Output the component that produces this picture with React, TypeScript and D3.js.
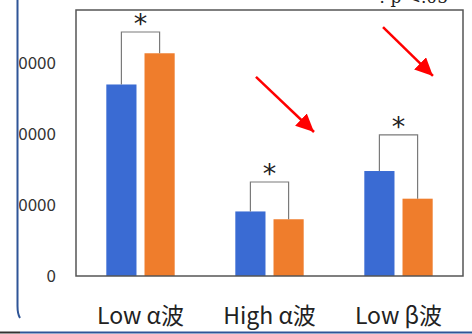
import React from "react";
import * as d3 from "d3";

const categories = ["Low α波", "High α波", "Low β波"];
const seriesNames = ["before", "after"];
const seriesColors = ["#3a6bd3", "#ef7d2c"];
const valuesBefore = [27000, 9100, 14800];
const valuesAfter = [31400, 8000, 10900];
const bracketValues = [34400, 13250, 19900];
const yTicks = [0, 10000, 20000, 30000];
const arrows = [
  { x1: 0.895, y1: 28060, x2: 1.345, y2: 20300 },
  { x1: 1.88, y1: 35100, x2: 2.267, y2: 28200 },
];

const W = 472;
const H = 334;
const plot = { left: 76, right: 463, top: 10, bottom: 276 };

export default function App() {
  const x0 = d3
    .scaleBand<string>()
    .domain(categories)
    .range([plot.left, plot.right])
    .paddingInner(0.47)
    .paddingOuter(0.235);
  const x1 = d3
    .scaleBand<string>()
    .domain(seriesNames)
    .range([0, x0.bandwidth()])
    .paddingInner(0.21);
  const y = d3.scaleLinear().domain([0, 37500]).range([plot.bottom, plot.top]);
  const idx = d3
    .scaleLinear()
    .domain([0, 1])
    .range([
      (x0(categories[0]) as number) + x0.bandwidth() / 2,
      (x0(categories[1]) as number) + x0.bandwidth() / 2,
    ]);

  const data = categories.map((c, i) => ({
    cat: c,
    vals: [valuesBefore[i], valuesAfter[i]],
    bracket: bracketValues[i],
  }));

  const sans = "'Noto Sans CJK JP', 'Noto Sans', sans-serif";

  return (
    <div style={{ position: "absolute", left: 0, top: 0 }}>
      <svg width={W} height={H} style={{ display: "block", background: "#fff" }}>
        <defs>
          <clipPath id="tickclip">
            <rect x={19} y={0} width={W} height={H} />
          </clipPath>
          <marker
            id="arrowhead"
            markerUnits="userSpaceOnUse"
            markerWidth={19}
            markerHeight={17}
            refX={18}
            refY={8.5}
            orient="auto"
          >
            <path d="M0,0 L18,8.5 L0,17 Z" fill="#ff0000" />
          </marker>
        </defs>

        {/* top-right note, mostly cut off */}
        <text
          x={448}
          y={3}
          textAnchor="end"
          fontFamily="'DejaVu Serif', serif"
          fontSize={17}
          fill="#222"
        >
          * : p &lt;.05
        </text>

        {/* y tick labels */}
        <g clipPath="url(#tickclip)">
          {yTicks.map((t) => (
            <text
              key={t}
              x={56}
              y={y(t)}
              dy="0.35em"
              textAnchor="end"
              fontFamily={sans}
              fontSize={17}
              fill="#333"
            >
              {t}
            </text>
          ))}
        </g>

        {/* bars */}
        {data.map((d) => (
          <g key={d.cat} transform={`translate(${x0(d.cat)},0)`}>
            {d.vals.map((v, j) => (
              <rect
                key={j}
                x={x1(seriesNames[j])}
                y={y(v)}
                width={x1.bandwidth()}
                height={y(0) - y(v)}
                fill={seriesColors[j]}
              />
            ))}
            {/* bracket */}
            <path
              d={`M${(x1(seriesNames[0]) as number) + x1.bandwidth() / 2},${y(d.vals[0])}V${y(
                d.bracket
              )}H${(x1(seriesNames[1]) as number) + x1.bandwidth() / 2}V${y(d.vals[1])}`}
              fill="none"
              stroke="#7a7a7a"
              strokeWidth={1.2}
            />
            <text
              x={x0.bandwidth() / 2}
              y={y(d.bracket) + 1}
              textAnchor="middle"
              fontFamily="'DejaVu Sans', sans-serif"
              fontSize={27}
              fill="#222"
            >
              *
            </text>
          </g>
        ))}

        {/* frame */}
        <rect
          x={plot.left}
          y={plot.top}
          width={plot.right - plot.left}
          height={plot.bottom - plot.top}
          fill="none"
          stroke="#555"
          strokeWidth={1.5}
        />

        {/* category labels */}
        {categories.map((c) => (
          <text
            key={c}
            x={(x0(c) as number) + x0.bandwidth() / 2}
            y={324}
            textAnchor="middle"
            fontFamily={sans}
            fontSize={23}
            fill="#222"
          >
            {c}
          </text>
        ))}

        {/* red arrows */}
        {arrows.map((a, i) => {
          const sx = idx(a.x1), sy = y(a.y1), ex = idx(a.x2), ey = y(a.y2);
          return (
            <line
              key={i}
              x1={sx}
              y1={sy}
              x2={ex}
              y2={ey}
              stroke="#ff0000"
              strokeWidth={2.5}
              markerEnd="url(#arrowhead)"
            />
          );
        })}

        {/* slide border decorations */}
        <path d="M17.5,0 V306 Q17.5,314 20,318" fill="none" stroke="#2f5597" strokeWidth={2} />
        <line x1={0} y1={332.5} x2={20} y2={332.5} stroke="#333" strokeWidth={2} />
        <line x1={20} y1={332.5} x2={W} y2={332.5} stroke="#2f5597" strokeWidth={2} />
      </svg>
    </div>
  );
}
